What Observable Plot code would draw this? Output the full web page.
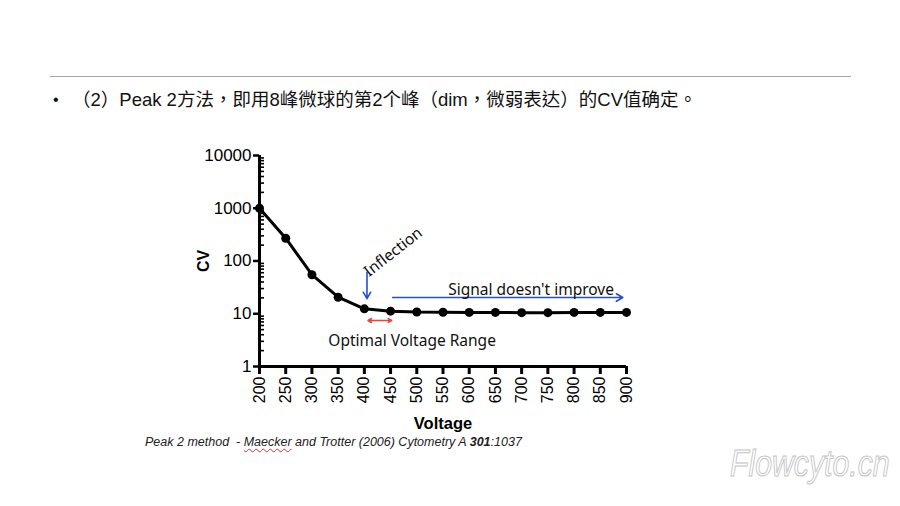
<!DOCTYPE html>
<html>
<head>
<meta charset="utf-8">
<script src="https://cdn.jsdelivr.net/npm/d3@7"></script>
<script src="https://cdn.jsdelivr.net/npm/@observablehq/plot@0.6"></script>
<style>
  html, body { margin: 0; padding: 0; background: #fff; }
  #wrap { position: relative; width: 900px; height: 506px; overflow: hidden; background: #fff; }
  #wrap svg { position: absolute; left: 0; top: 0; }
  .rule { position: absolute; left: 50px; top: 76px; width: 801px; height: 0; border-top: 1px solid #a6a6a6; }
  .title { position: absolute; left: 53px; top: 85px; font: 18.5px "Liberation Sans", "Noto Sans CJK TC", sans-serif; color: #111; white-space: nowrap; }
  .title .bullet { display: inline-block; width: 19px; font-size: 16px; vertical-align: 1px; }
  .caption { position: absolute; left: 145px; top: 435px; font: italic 12.5px "Liberation Sans", sans-serif; color: #222; white-space: nowrap; }
  .caption .sp { text-decoration: underline wavy #e03030; text-decoration-thickness: 1px; text-underline-offset: 2px; }
  .wm { position: absolute; left: 730px; top: 443px; font: italic 36px "Liberation Sans", sans-serif; color: #fff; -webkit-text-stroke: 1px #c4c4c4; transform: scaleX(0.84); transform-origin: left top; white-space: nowrap; }
</style>
</head>
<body>
<div id="wrap">
  <div class="rule"></div>
  <div class="title" lang="zh-Hant"><span class="bullet">•</span>（2）Peak 2方法，即用8峰微球的第2个峰（dim，微弱表达）的CV值确定。</div>
  <div class="caption">Peak 2 method&nbsp; - <span class="sp">Maecker</span> and Trotter (2006) Cytometry A <b>301</b>:1037</div>
  <div class="wm">Flowcyto.cn</div>
</div>
<script>
// Data
const voltage = [200, 250, 300, 350, 400, 450, 500, 550, 600, 650, 700, 750, 800, 850, 900];
const cv      = [1000, 270, 55, 20.6, 12.4, 11.2, 10.8, 10.7, 10.6, 10.6, 10.5, 10.5, 10.6, 10.6, 10.6];
const xTicks = [200, 250, 300, 350, 400, 450, 500, 550, 600, 650, 700, 750, 800, 850, 900];
const yTicks = [1, 10, 100, 1000, 10000];

// Annotations (data coordinates)
const inflectionArrow = [{x1: 405, y1: 61, x2: 405, y2: 19.3}];
const signalArrow     = [{x1: 454, y1: 20.3, x2: 893, y2: 20.3}];
const optimalArrows   = [{x1: 430, y1: 7.45, x2: 407, y2: 7.45}, {x1: 430, y1: 7.45, x2: 452, y2: 7.45}];
const inflectionLabel = [{text: "Inflection", x: 455, y: 148}];
const flatLabels = [
  {text: "Signal doesn't improve", x: 718, y: 27.6},
  {text: "Optimal Voltage Range", x: 491, y: 3.1}
];

const minorTicks = [];
for (let d = 1; d < 10000; d *= 10) for (let k = 2; k <= 9; k++) minorTicks.push(d * k);

const rows = voltage.map((v, i) => ({v, cv: cv[i]}));
const annFont = "'Noto Sans', 'DejaVu Sans', sans-serif";

const chart = Plot.plot({
  width: 900,
  height: 506,
  marginLeft: 259,
  marginRight: 274,
  marginTop: 155,
  marginBottom: 140,
  style: {fontFamily: "'Liberation Sans', Arial, sans-serif", background: "transparent", color: "#000"},
  x: {domain: [200, 900]},
  y: {type: "log", domain: [1, 10000]},
  marks: [
    Plot.axisY({ticks: minorTicks, tickSize: -5, strokeWidth: 1.6, text: null, label: null}),
    Plot.axisY({ticks: yTicks, tickFormat: d => String(d), tickSize: 6, tickPadding: 2, strokeWidth: 2.5, fontSize: 17, label: null}),
    Plot.axisX({ticks: xTicks, tickFormat: d => String(d), tickSize: 8, tickPadding: 2, strokeWidth: 3, tickRotate: -90, fontSize: 16, label: null}),
    Plot.ruleX([200], {stroke: "#000", strokeWidth: 3}),
    Plot.ruleY([1], {stroke: "#000", strokeWidth: 3}),
    Plot.line(rows, {x: "v", y: "cv", stroke: "#000", strokeWidth: 3}),
    Plot.dot(rows, {x: "v", y: "cv", r: 4.5, fill: "#000"}),
    Plot.arrow(inflectionArrow, {x1: "x1", y1: "y1", x2: "x2", y2: "y2", stroke: "#2450d0", strokeWidth: 1.6, headLength: 7}),
    Plot.arrow(signalArrow, {x1: "x1", y1: "y1", x2: "x2", y2: "y2", stroke: "#2450d0", strokeWidth: 1.6, headLength: 7}),
    Plot.arrow(optimalArrows, {x1: "x1", y1: "y1", x2: "x2", y2: "y2", stroke: "#e8453c", strokeWidth: 1.6, headLength: 6}),
    Plot.text(inflectionLabel, {x: "x", y: "y", text: "text", rotate: -38, textAnchor: "middle", fontSize: 15.5, fontFamily: annFont, fill: "#111"}),
    Plot.text(flatLabels, {x: "x", y: "y", text: "text", textAnchor: "middle", fontSize: 15.5, fontFamily: annFont, fill: "#111"}),
    Plot.text(["CV"], {frameAnchor: "left", dx: -56, rotate: -90, textAnchor: "middle", lineAnchor: "middle", fontWeight: "bold", fontSize: 16, fill: "#000"}),
    Plot.text(["Voltage"], {frameAnchor: "bottom", dy: 57, textAnchor: "middle", lineAnchor: "middle", fontWeight: "bold", fontSize: 16.5, fill: "#000"})
  ]
});
document.getElementById("wrap").prepend(chart);
</script>
</body>
</html>
